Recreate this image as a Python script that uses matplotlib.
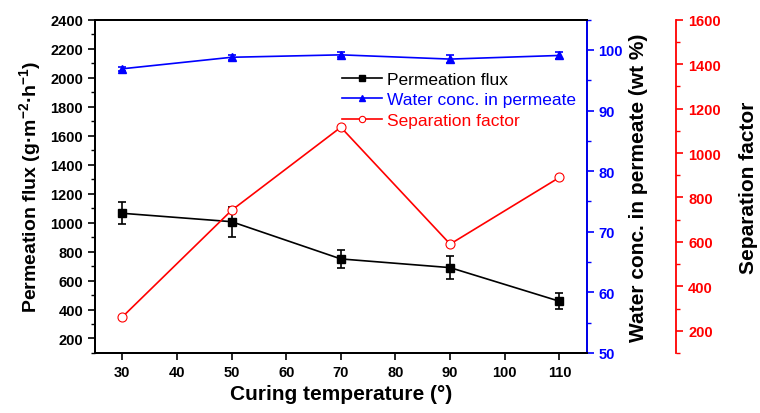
import numpy as np
import matplotlib
matplotlib.use("Agg")
from matplotlib import pyplot as plt
from matplotlib.ticker import MultipleLocator

plt.rcParams['font.family'] = ['Liberation Sans', 'DejaVu Sans']
plt.rcParams['mathtext.fontset'] = 'custom'
plt.rcParams['mathtext.rm'] = 'Liberation Sans'
plt.rcParams['mathtext.bf'] = 'Liberation Sans:bold'
plt.rcParams['mathtext.default'] = 'bf'

temps = [30, 50, 70, 90, 110]
flux = [1064, 1006, 749, 689, 457]
flux_err = [76, 103, 62, 79, 55]
water = [96.9, 98.8, 99.2, 98.5, 99.1]
water_err = [0.3, 0.4, 0.4, 0.7, 0.6]
sep = [262, 742, 1116, 590, 890]

fig = plt.figure(figsize=(7.6, 4.14), dpi=100)
ax1 = fig.add_axes([0.125, 0.145, 0.647, 0.805])
ax2 = ax1.twinx()
ax3 = ax1.twinx()

l1 = ax1.errorbar(temps, flux, yerr=flux_err, color='black', marker='s', markersize=6,
                  linewidth=1.2, capsize=3, elinewidth=1.2, capthick=1.2,
                  label='Permeation flux')
l2 = ax2.errorbar(temps, water, yerr=water_err, color='blue', marker='^', markersize=6,
                  linewidth=1.2, capsize=3, elinewidth=1.2, capthick=1.2,
                  label='Water conc. in permeate')
l3, = ax3.plot(temps, sep, color='red', marker='o', markersize=6.5, markerfacecolor='white',
               markeredgecolor='red', markeredgewidth=0.8, linewidth=1.2, label='Separation factor')

ax1.set_xlim(25, 115)
ax1.set_ylim(100, 2400)
ax2.set_ylim(50, 105)
ax3.set_ylim(100, 1600)

ax1.xaxis.set_major_locator(MultipleLocator(10))
ax1.yaxis.set_minor_locator(MultipleLocator(100))
ax2.yaxis.set_minor_locator(MultipleLocator(5))
ax3.yaxis.set_minor_locator(MultipleLocator(100))

ax1.set_yticks(np.arange(200, 2401, 200))
ax2.set_yticks(np.arange(50, 101, 10))
ax3.set_yticks(np.arange(200, 1601, 200))

for a in (ax1, ax2, ax3):
    for sp in a.spines.values():
        sp.set_linewidth(1.3)
    a.tick_params(which='major', direction='out', length=5, width=1.2, labelsize=10.5)
    a.tick_params(which='minor', direction='out', length=3, width=1.0)

ax1.tick_params(axis='x', top=False)
ax2.spines['right'].set_color('blue')
ax2.tick_params(axis='y', colors='blue', which='both')
ax3.spines['right'].set_position(('axes', 1.182))
ax3.spines['right'].set_color('red')
ax3.tick_params(axis='y', colors='red', which='both')

for a in (ax1, ax2, ax3):
    for lab in a.get_xticklabels() + a.get_yticklabels():
        lab.set_fontweight('bold')

ax1.set_xlabel('Curing temperature (°)', fontsize=15, fontweight='bold')
ax1.set_ylabel('Permeation flux (g·m$^{-2}$·h$^{-1}$)', fontsize=14, fontweight='bold', labelpad=5)
ax2.set_ylabel('Water conc. in permeate (wt %)', fontsize=15, fontweight='bold')
ax3.set_ylabel('Separation factor', fontsize=15, fontweight='bold', labelpad=13)

# legend uses the plain lines, no error bars in the handles
leg = ax1.legend([l1[0], l2[0], l3], ['Permeation flux', 'Water conc. in permeate', 'Separation factor'],
                 loc='upper right', bbox_to_anchor=(1.0, 0.875), frameon=False, fontsize=12.5,
                 handlelength=2.3, handletextpad=0.3, labelspacing=0.3, borderaxespad=0.2,
                 markerscale=0.7)
for txt, c in zip(leg.get_texts(), ['black', 'blue', 'red']):
    txt.set_color(c)

fig.savefig('out.png', dpi=100)
